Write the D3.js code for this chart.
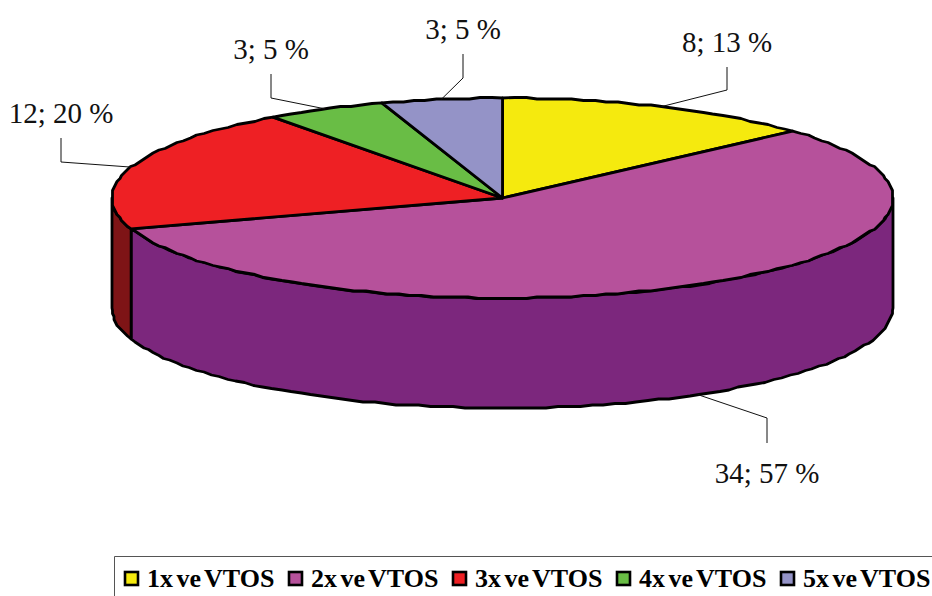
<!DOCTYPE html>
<html><head><meta charset="utf-8">
<script src="https://cdnjs.cloudflare.com/ajax/libs/d3/7.8.5/d3.min.js"></script>
<style>html,body{margin:0;padding:0;background:#fff;overflow:hidden}svg{display:block}text{font-family:"Liberation Serif",serif}</style>
</head><body><svg id="c" width="932" height="596"></svg>
<script>
const categories=["1x ve VTOS","2x ve VTOS","3x ve VTOS","4x ve VTOS","5x ve VTOS"];
const counts=[8,34,12,3,3];
const percents=[13,57,20,5,5];
const topColors=["#f5ea0e","#b6519b","#ee2024","#69bd45","#9493c7"];
const wallColors=["#7b7507","#7c277d","#7e1416","#355f23","#4a4a64"];

const cx=502.5,cy=198,rx=390.5,ry=100,depth=110,tau=2*Math.PI,grid=1.5;
const svg=d3.select("#c");
const pie=d3.pie().sort(null).value(d=>d)(counts);
const X=d3.scaleLinear().domain([-1,1]).range([cx-rx,cx+rx]);
const Y=d3.scaleLinear().domain([-1,1]).range([cy-ry,cy+ry]);
const pt=(a,dz=0)=>[X(Math.sin(a)),Y(-Math.cos(a))+dz];
const snap=p=>[Math.round(p[0]/grid)*grid,Math.round(p[1]/grid)*grid];
const arcPts=(a0,a1,dz=0)=>{
  const n=Math.max(2,Math.ceil((a1-a0)/0.03));
  return d3.range(n+1).map(i=>{
    const p=pt(a0+(a1-a0)*i/n,dz);
    return (i===0||i===n)?p:snap(p);
  });
};
const line=d3.line();
const sw=2.8;

// walls: visible front half only
pie.forEach((s,i)=>{
  const a0=Math.max(s.startAngle,tau/4),a1=Math.min(s.endAngle,3*tau/4);
  if(a1<=a0)return;
  const p=[...arcPts(a0,a1),...arcPts(a0,a1,depth).reverse()];
  svg.append("path").attr("d",line(p)+"Z").attr("fill",wallColors[i])
    .attr("stroke","#000").attr("stroke-width",sw).attr("stroke-linejoin","round");
});
// top faces
pie.forEach((s,i)=>{
  const p=[[cx,cy],...arcPts(s.startAngle,s.endAngle)];
  svg.append("path").attr("d",line(p)+"Z").attr("fill",topColors[i])
    .attr("stroke","#000").attr("stroke-width",sw).attr("stroke-linejoin","round");
});

// leader lines and labels, anchored at each slice's mid-angle
const labelLayout=[
 {elbow:[727,90],end:[727,67],tx:727,ty:52},
 {elbow:[767,418],end:[767,443],tx:767,ty:483,front:true},
 {elbow:[61,162],end:[61,138],tx:61,ty:123},
 {elbow:[271,98],end:[271,74],tx:271,ty:59},
 {elbow:[463,78],end:[463,54],tx:463,ty:39}
];
pie.forEach((s,i)=>{
  const l=labelLayout[i],mid=(s.startAngle+s.endAngle)/2;
  svg.append("path").attr("d",line([pt(mid,l.front?depth:0),l.elbow,l.end]))
    .attr("fill","none").attr("stroke","#111").attr("stroke-width",1);
  svg.append("text").attr("x",l.tx).attr("y",l.ty).attr("text-anchor","middle")
    .attr("font-size",29).attr("fill","#111").text(`${counts[i]}; ${percents[i]} %`);
});

// legend
svg.append("path").attr("d","M114.5,596V556.5H932").attr("fill","none").attr("stroke","#555").attr("stroke-width",1);
const lx=d3.scalePoint().domain(categories).range([124,780]);
categories.forEach((c,i)=>{
  svg.append("rect").attr("x",lx(c)+1).attr("y",572).attr("width",13).attr("height",13)
    .attr("fill",topColors[i]).attr("stroke","#000").attr("stroke-width",2.6);
  svg.append("text").attr("x",lx(c)+23).attr("y",587).attr("font-size",26).attr("font-weight","bold")
    .attr("word-spacing",-3).attr("fill","#000").text(c);
});
</script></body></html>
